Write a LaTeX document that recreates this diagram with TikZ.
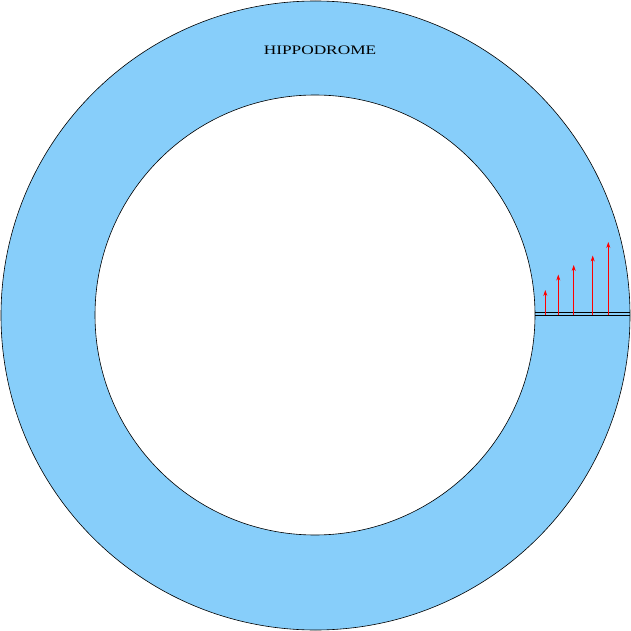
\documentclass[tikz,border=0pt]{standalone}
\usepackage{fontspec}
\setmainfont{Liberation Serif}
\usetikzlibrary{arrows.meta}
\definecolor{track}{RGB}{135,206,250}
\tikzset{
  ring/.style={draw=black, line width=0.6pt},
  rail/.style={draw=black, line width=0.7pt},
  force/.style={draw=red, line width=0.7pt, -{Stealth[length=6pt,width=4pt]}},
}
\begin{document}
\begin{tikzpicture}[x=1pt,y=-1pt]
\useasboundingbox (0,0) rectangle (631,631);
\fill[track, even odd rule] (315.5,315.5) circle (314.5) (315,315) circle (220);
\draw[ring] (315.5,315.5) circle (314.5);
\draw[ring] (315,315) circle (220);
\coordinate (l1a) at (535,312.7);
\coordinate (l1b) at (630,312.7);
\coordinate (l2a) at (535,315.3);
\coordinate (l2b) at (630,315.3);
\draw[rail] (l1a) -- (l1b);
\draw[rail] (l2a) -- (l2b);
\foreach \x/\t in {545.3/290, 558.3/274.5, 573.7/265, 592.7/255.5, 608.3/242} {
  \draw[force] (\x,315.3) -- (\x,\t);
}
\node[inner sep=0pt, font=\fontsize{13}{15}\selectfont] (title) at (320,50) {\scalebox{1.33}[1]{HIPPODROME}};
\end{tikzpicture}
\end{document}
